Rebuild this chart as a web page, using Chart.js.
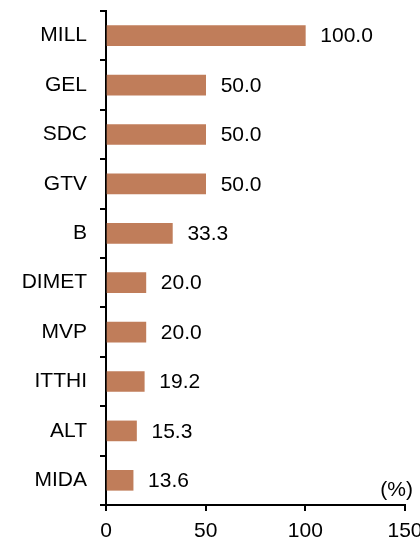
<!DOCTYPE html>
<html>
<head>
<meta charset="utf-8">
<script src="https://cdn.jsdelivr.net/npm/chart.js@4"></script>
<style>
    html, body { margin: 0; padding: 0; background: #fff; overflow: hidden; }
    #wrap { width: 420px; height: 537px; }
</style>
</head>
<body>
<div id="wrap"><canvas id="barChart" width="420" height="537"></canvas></div>
<script>
// Données du graphique
const categories = ['MILL', 'GEL', 'SDC', 'GTV', 'B', 'DIMET', 'MVP', 'ITTHI', 'ALT', 'MIDA'];
const values = [100.0, 50.0, 50.0, 50.0, 33.3, 20.0, 20.0, 19.2, 15.3, 13.6];
const xTicks = [0, 50, 100, 150];
const unitLabel = '(%)';

const FONT = '"Liberation Sans", Arial, sans-serif';
const FONT_SIZE = 21;
const BAR_COLOR = '#c07d5a';

document.addEventListener('DOMContentLoaded', () => {
    // --- valeurs au bout des barres + unité ---
    const valueLabels = {
        id: 'valueLabels',
        afterDatasetsDraw(chart) {
            const ctx = chart.ctx;
            const meta = chart.getDatasetMeta(0);
            ctx.save();
            ctx.font = FONT_SIZE + 'px ' + FONT;
            ctx.fillStyle = '#000';
            ctx.textAlign = 'left';
            ctx.textBaseline = 'middle';
            meta.data.forEach((bar, i) => {
                ctx.fillText(values[i].toFixed(1), bar.x + 15, bar.y + 1);
            });
            const area = chart.chartArea;
            ctx.textAlign = 'right';
            ctx.fillText(unitLabel, area.right + 8, area.bottom - 15);
            ctx.restore();
        }
    };

    // on fixe la taille des axes (pas de marge auto)
    const fixAxis = (size) => (scale) => {
        if (scale.isHorizontal()) scale.height = size; else scale.width = size;
        scale.paddingTop = 0;
        scale.paddingBottom = 0;
        scale.paddingLeft = 0;
        scale.paddingRight = 0;
    };

    const ctx = document.getElementById('barChart').getContext('2d');
    new Chart(ctx, {
        type: 'bar',
        data: {
            labels: categories,
            datasets: [{
                data: values,
                backgroundColor: BAR_COLOR,
                borderWidth: 0,
                barThickness: 20
            }]
        },
        options: {
            indexAxis: 'y',
            responsive: false,
            animation: false,
            layout: { padding: { top: 11, right: 15, left: 0, bottom: 0 } },
            plugins: {
                legend: { display: false },
                tooltip: { enabled: false }
            },
            scales: {
                x: {
                    min: 0,
                    max: 150,
                    afterBuildTicks: (scale) => { scale.ticks = xTicks.map(v => ({ value: v })); },
                    afterFit: fixAxis(32),
                    border: { display: true, color: '#000', width: 2 },
                    grid: { drawOnChartArea: false, drawTicks: true, tickLength: 6, color: '#000', lineWidth: 2 },
                    ticks: { color: '#000', padding: 8, maxRotation: 0, font: { family: FONT, size: FONT_SIZE } }
                },
                y: {
                    afterFit: fixAxis(106),
                    border: { display: true, color: '#000', width: 2 },
                    grid: { drawOnChartArea: false, drawTicks: true, tickLength: 6, color: '#000', lineWidth: 2, offset: true },
                    ticks: { color: '#000', padding: 13, font: { family: FONT, size: FONT_SIZE } }
                }
            }
        },
        plugins: [valueLabels]
    });
});
</script>
</body>
</html>
